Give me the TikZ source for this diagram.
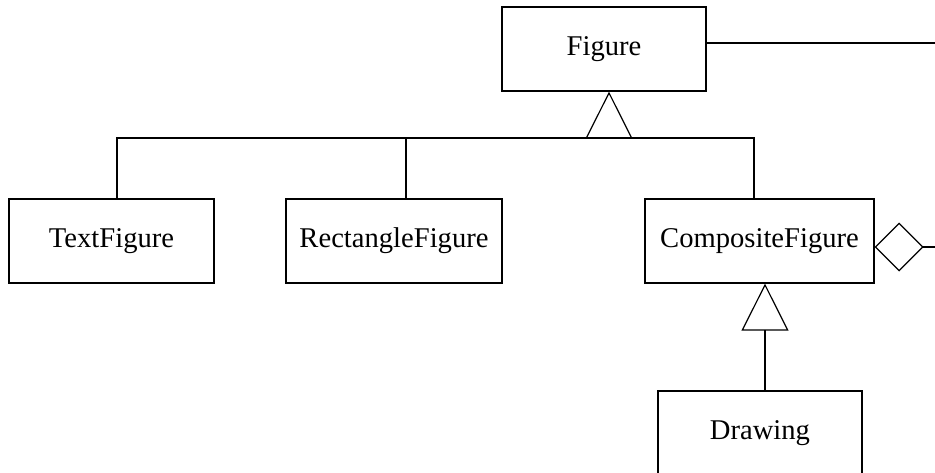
\documentclass[tikz,border=0pt]{standalone}
\usepackage{fontspec}
\setmainfont{Liberation Serif}
\usetikzlibrary{positioning}
\usetikzlibrary{arrows.meta}

\begin{document}
\begin{tikzpicture}[x=0.5pt, y=-0.5pt, line width=0.6pt, classnode/.style={rectangle, draw=black, fill=white, inner sep=0pt, minimum height=42pt, font=\fontsize{14.3}{17}\selectfont}, inherit/.style={-{Triangle[open, length=23.5pt, width=23.5pt]}}, aggregate/.style={{Diamond[open, length=24.5pt, width=24.5pt]}-}]

    \useasboundingbox (0,0) rectangle (935,472);

    %Nodes
    \node[classnode, minimum width=102pt](figure) at (604,49){Figure};
    \node[classnode, minimum width=102.5pt](textfig) at (111.5,241){TextFigure};
    \node[classnode, minimum width=108pt](rectfig) at (394,241){RectangleFigure};
    \node[classnode, minimum width=114.5pt](compfig) at (759.5,241){CompositeFigure};
    \node[classnode, minimum width=102pt](drawing) at (760,433){Drawing};
    \coordinate (bus) at (609,138);
    \coordinate (assocend) at (940,43);
    \coordinate (aggend) at (940,247);

    %Lines
    \draw ([xshift=2.75pt]textfig.north) |- (bus) -| ([xshift=-2.75pt]compfig.north);
    \draw ([xshift=6pt]rectfig.north) |- (bus);
    \draw[inherit] (bus) -- ([xshift=2.5pt]figure.south);
    \draw[inherit] ([xshift=2.5pt]drawing.north) -- ([xshift=2.75pt]compfig.south);
    \draw ([yshift=3pt]figure.east) -- (assocend);
    \draw[aggregate] ([yshift=-3pt]compfig.east) -- (aggend);

\end{tikzpicture}
\end{document}
